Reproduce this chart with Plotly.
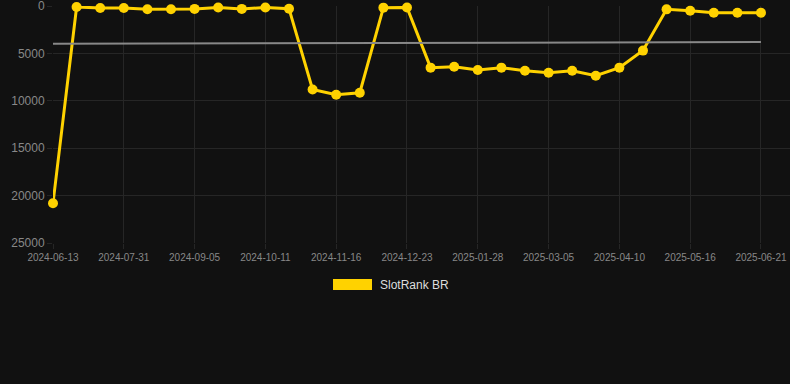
import plotly.graph_objects as go

dates = ["2024-06-13", "2024-06-25", "2024-07-07", "2024-07-31", "2024-08-12", "2024-08-24",
         "2024-09-05", "2024-09-17", "2024-09-29", "2024-10-11", "2024-10-23", "2024-11-04",
         "2024-11-16", "2024-11-28", "2024-12-10", "2024-12-23", "2025-01-04", "2025-01-16",
         "2025-01-28", "2025-02-09", "2025-02-21", "2025-03-05", "2025-03-17", "2025-03-29",
         "2025-04-10", "2025-04-22", "2025-05-04", "2025-05-16", "2025-05-28", "2025-06-09",
         "2025-06-21"]
rank = [20800, 100, 200, 200, 330, 330, 300, 150, 300, 150, 280, 8800, 9350, 9150, 170,
        150, 6500, 6400, 6750, 6500, 6820, 7030, 6820, 7350, 6500, 4700, 350, 490, 700, 700, 700]
trend = [3980, 3800]
tick_dates = dates[::3]
y_ticks = [0, 5000, 10000, 15000, 20000, 25000]
legend_name = "SlotRank BR"

YELLOW = "#FFD200"
GRID = "#262626"
BG = "#111111"

fig = go.Figure()
fig.add_trace(go.Scatter(
    x=list(range(len(dates))), y=rank, mode="lines+markers",
    line=dict(color=YELLOW, width=3), marker=dict(color=YELLOW, size=10),
    name=legend_name, showlegend=False, hoverinfo="skip", cliponaxis=False))
fig.add_trace(go.Scatter(
    x=[0, len(dates) - 1], y=trend, mode="lines",
    line=dict(color="#888888", width=2), showlegend=False, hoverinfo="skip"))

fig.update_layout(
    width=790, height=384,
    paper_bgcolor=BG, plot_bgcolor=BG,
    margin=dict(l=53, r=0, t=6, b=141),
    font=dict(family="Liberation Sans, Arial, sans-serif", color="#888888", size=11),
    xaxis=dict(
        range=[0, 31.23], tickmode="array",
        tickvals=list(range(0, len(dates), 3)), ticktext=tick_dates,
        showgrid=True, gridcolor=GRID, gridwidth=1, zeroline=False,
        ticks="outside", ticklen=5, tickcolor=GRID, showline=False,
        tickfont=dict(size=10, color="#888888"), ticklabeloverflow="allow",
    ),
    yaxis=dict(
        range=[25000, -5], tickmode="array", tickvals=y_ticks,
        ticktext=[str(v) for v in y_ticks],
        showgrid=True, gridcolor=GRID, gridwidth=1, zeroline=False,
        ticks="outside", ticklen=5, tickcolor=GRID, showline=False,
        tickfont=dict(size=12, color="#888888"), ticklabeloverflow="allow",
    ),
    showlegend=False,
)

# custom legend swatch + label (paper coords for plot area y 6..243)
H = 237.0
fig.add_shape(type="rect", xref="paper", yref="paper",
              x0=(333 - 53) / 737, x1=(372 - 53) / 737,
              y0=(243 - 290) / H, y1=(243 - 279) / H,
              fillcolor=YELLOW, line=dict(width=0))
fig.add_annotation(xref="paper", yref="paper", x=(378 - 53) / 737, y=(243 - 284.5) / H,
                   text=legend_name, showarrow=False, xanchor="left", yanchor="middle",
                   font=dict(size=12, color="#DDDDDD"))

fig.write_html("out.html", config={"displayModeBar": False},
               post_script="document.body.style.margin='0';document.body.style.background='#111111';")
